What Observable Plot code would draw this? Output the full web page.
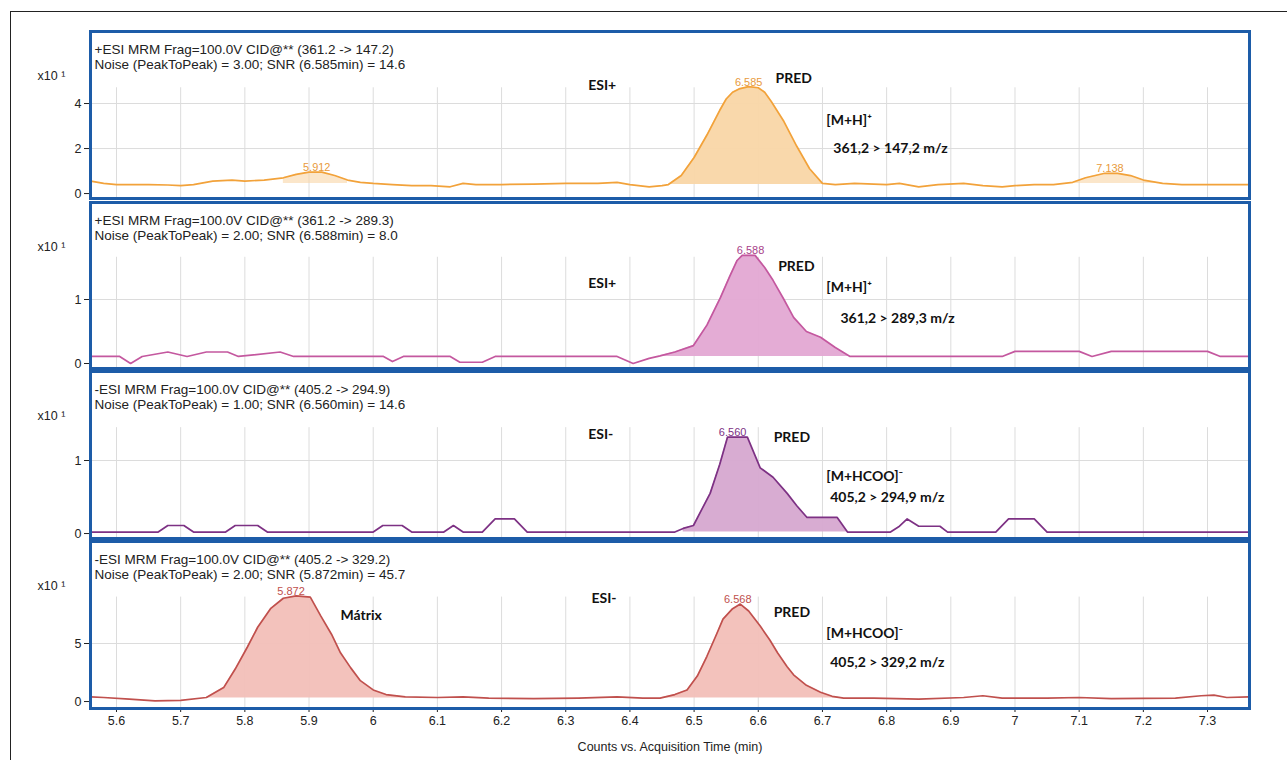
<!DOCTYPE html>
<html><head><meta charset="utf-8">
<script src="https://cdn.jsdelivr.net/npm/d3@7"></script>
<script src="https://cdn.jsdelivr.net/npm/@observablehq/plot@0.6"></script>
<style>
body{margin:0;background:#fff;}
#root{position:relative;width:1287px;height:760px;overflow:hidden;font-family:"Liberation Sans",Arial,sans-serif;background:#fff;}
#frame{position:absolute;left:10px;top:11px;width:1400px;height:900px;border-top:1px solid #222;border-left:1px solid #222;}
.panel{position:absolute;left:0;}
</style></head><body><div id="root"><div id="frame"></div></div>
<script>
// ---- data ----
const xTicks = [5.6,5.7,5.8,5.9,6.0,6.1,6.2,6.3,6.4,6.5,6.6,6.7,6.8,6.9,7.0,7.1,7.2,7.3];

const t1 = [5.56,5.58,5.60,5.65,5.68,5.70,5.72,5.75,5.78,5.80,5.83,5.86,5.88,5.90,5.92,5.94,5.96,5.98,6.00,6.03,6.06,6.09,6.12,6.14,6.16,6.20,6.25,6.30,6.35,6.38,6.40,6.43,6.45,6.46,6.48,6.50,6.52,6.54,6.55,6.56,6.57,6.585,6.60,6.61,6.62,6.64,6.66,6.68,6.70,6.72,6.75,6.78,6.80,6.82,6.85,6.88,6.92,6.95,6.98,7.00,7.03,7.06,7.09,7.11,7.14,7.16,7.18,7.20,7.23,7.26,7.30,7.33,7.365];
const v1 = [0.55,0.45,0.40,0.40,0.38,0.35,0.40,0.55,0.60,0.55,0.60,0.70,0.85,0.95,0.95,0.80,0.60,0.50,0.45,0.40,0.35,0.35,0.30,0.45,0.40,0.40,0.42,0.45,0.45,0.50,0.40,0.30,0.35,0.40,0.80,1.60,2.60,3.70,4.20,4.50,4.65,4.75,4.70,4.50,4.10,3.20,2.10,1.10,0.45,0.40,0.45,0.42,0.40,0.45,0.30,0.40,0.45,0.35,0.30,0.35,0.40,0.40,0.50,0.70,0.90,0.90,0.80,0.60,0.45,0.40,0.40,0.40,0.40];

const t2 = [5.56,5.605,5.622,5.64,5.68,5.71,5.74,5.773,5.79,5.855,5.876,6.016,6.03,6.047,6.12,6.135,6.17,6.19,6.30,6.38,6.405,6.43,6.447,6.47,6.499,6.52,6.541,6.555,6.567,6.575,6.595,6.61,6.623,6.64,6.655,6.675,6.697,6.72,6.743,6.80,6.90,6.98,7.00,7.10,7.12,7.15,7.30,7.32,7.365];
const v2 = [0.11,0.11,0.0,0.11,0.18,0.11,0.18,0.18,0.11,0.18,0.11,0.11,0.03,0.11,0.11,0.02,0.02,0.11,0.11,0.11,0.0,0.08,0.12,0.18,0.28,0.60,1.03,1.35,1.61,1.69,1.69,1.50,1.30,1.00,0.72,0.50,0.41,0.25,0.11,0.11,0.11,0.11,0.19,0.19,0.11,0.19,0.19,0.11,0.11];

const t3 = [5.56,5.665,5.68,5.705,5.72,5.77,5.785,5.82,5.835,6.00,6.015,6.045,6.06,6.11,6.125,6.14,6.17,6.19,6.22,6.24,6.47,6.483,6.499,6.512,6.525,6.54,6.552,6.583,6.603,6.623,6.645,6.66,6.676,6.723,6.739,6.806,6.82,6.832,6.85,6.883,6.895,6.97,6.99,7.03,7.05,7.365];
const v3 = [0.02,0.02,0.11,0.11,0.02,0.02,0.11,0.11,0.02,0.02,0.11,0.11,0.02,0.02,0.11,0.02,0.02,0.20,0.20,0.02,0.02,0.07,0.11,0.33,0.55,0.95,1.32,1.32,0.90,0.77,0.55,0.38,0.22,0.22,0.02,0.02,0.10,0.20,0.10,0.10,0.02,0.02,0.20,0.20,0.02,0.02];

const t4 = [5.56,5.58,5.62,5.66,5.70,5.74,5.767,5.785,5.804,5.82,5.84,5.86,5.88,5.902,5.918,5.935,5.949,5.965,5.98,6.00,6.02,6.05,6.10,6.14,6.18,6.25,6.32,6.38,6.42,6.447,6.47,6.489,6.505,6.52,6.535,6.545,6.56,6.572,6.585,6.603,6.618,6.63,6.645,6.655,6.675,6.697,6.715,6.733,6.78,6.85,6.92,6.95,6.98,7.05,7.10,7.15,7.25,7.29,7.31,7.33,7.365];
const v4 = [0.40,0.35,0.20,0.05,0.10,0.35,1.2,2.8,4.7,6.4,8.0,8.9,9.1,9.0,7.4,5.8,4.2,2.9,1.8,1.0,0.6,0.4,0.35,0.40,0.30,0.25,0.30,0.40,0.30,0.30,0.6,1.0,2.2,3.9,5.8,7.1,8.0,8.4,7.8,6.5,5.3,4.2,3.0,2.3,1.4,0.8,0.45,0.3,0.3,0.2,0.35,0.5,0.3,0.3,0.35,0.25,0.3,0.5,0.55,0.35,0.4];

const headers = [
  "+ESI MRM Frag=100.0V CID@** (361.2 -> 147.2)\nNoise (PeakToPeak) = 3.00; SNR (6.585min) = 14.6",
  "+ESI MRM Frag=100.0V CID@** (361.2 -> 289.3)\nNoise (PeakToPeak) = 2.00; SNR (6.588min) = 8.0",
  "-ESI MRM Frag=100.0V CID@** (405.2 -> 294.9)\nNoise (PeakToPeak) = 1.00; SNR (6.560min) = 14.6",
  "-ESI MRM Frag=100.0V CID@** (405.2 -> 329.2)\nNoise (PeakToPeak) = 2.00; SNR (5.872min) = 45.7"
];
const yTicks = [[0,2,4],[0,1],[0,1],[0,5]];

const peaks1 = [{t:5.912,v:0.95,label:"5.912"},{t:6.585,v:4.75,label:"6.585"},{t:7.148,v:0.9,label:"7.138"}];
const peaks2 = [{t:6.588,v:1.69,label:"6.588"}];
const peaks3 = [{t:6.560,v:1.32,label:"6.560"}];
const peaks4 = [{t:5.872,v:9.1,label:"5.872"},{t:6.568,v:8.4,label:"6.568"}];

const notes1 = [{t:6.335,v:4.8,label:"ESI+"},{t:6.627,v:5.1,label:"PRED"},{t:6.706,v:3.24,label:"[M+H]⁺"},{t:6.717,v:2.0,label:"361,2 > 147,2 m/z"}];
const notes2 = [{t:6.335,v:1.25,label:"ESI+"},{t:6.631,v:1.52,label:"PRED"},{t:6.706,v:1.19,label:"[M+H]⁺"},{t:6.728,v:0.70,label:"361,2 > 289,3 m/z"}];
const notes3 = [{t:6.335,v:1.36,label:"ESI-"},{t:6.624,v:1.32,label:"PRED"},{t:6.706,v:0.78,label:"[M+HCOO]⁻"},{t:6.712,v:0.49,label:"405,2 > 294,9 m/z"}];
const notes4 = [{t:5.949,v:7.4,label:"Mátrix"},{t:6.340,v:8.9,label:"ESI-"},{t:6.624,v:7.7,label:"PRED"},{t:6.706,v:5.9,label:"[M+HCOO]⁻"},{t:6.712,v:3.4,label:"405,2 > 329,2 m/z"}];

// peak fill ranges [start, end, baseline]
const fills1 = [[5.86,5.97,0.45],[6.46,6.70,0.40],[7.09,7.23,0.45]];
const fills2 = [[6.447,6.743,0.11]];
const fills3 = [[6.483,6.739,0.02]];
const fills4 = [[5.74,6.05,0.3],[6.447,6.733,0.3]];

// ---- layout / style ----
const panels = [
  {t:t1, v:v1, peaks:peaks1, notes:notes1, fills:fills1, top:31, h:167, domain:[-0.22,7.2], gridTop:4.7, stroke:"#f2a23a", fill:"#f9d6a6", lab:"#e89a3c"},
  {t:t2, v:v2, peaks:peaks2, notes:notes2, fills:fills2, top:202, h:166, domain:[-0.078,2.516], gridTop:1.66, stroke:"#c4589f", fill:"#e3a8d3", lab:"#a8428a"},
  {t:t3, v:v3, peaks:peaks3, notes:notes3, fills:fills3, top:371, h:167, domain:[-0.068,2.219], gridTop:1.45, stroke:"#7d3184", fill:"#d6a8d0", lab:"#7d3184"},
  {t:t4, v:v4, peaks:peaks4, notes:notes4, fills:fills4, top:541, h:167, domain:[-0.60,13.79], gridTop:9.0, stroke:"#c0504d", fill:"#f2bfb8", lab:"#c0504d"}
];
const fmt = d => String(+d.toFixed(1));
const root = document.getElementById("root");

panels.forEach((p, i) => {
  const data = p.t.map((t, k) => ({t, v: p.v[k]}));
  const last = i === 3;
  const svg = Plot.plot({
    width: 1287,
    height: p.h + (last ? 52 : 0),
    marginLeft: 90, marginRight: 38, marginTop: 0, marginBottom: last ? 52 : 0,
    style: {overflow: "visible", fontFamily: "'Liberation Sans', Arial, sans-serif", color: "#222"},
    x: {domain: [5.5595, 7.3654], label: null, axis: null},
    y: {domain: p.domain, label: null, axis: null},
    marks: [
      Plot.ruleY(yTicks[i].filter(d => d > 0), {stroke: "#dcdcdc"}),
      Plot.ruleX(xTicks, {y1: p.domain[0], y2: p.gridTop, stroke: "#dcdcdc"}),
      ...p.fills.map(([a, b, base], k) => Plot.areaY(data.filter(d => d.t >= a && d.t <= b), {x: "t", y1: base, y2: "v", fill: p.fill, fillOpacity: (i === 0 && k !== 1) ? 0.6 : 0.95})),
      Plot.lineY(data, {x: "t", y: "v", stroke: p.stroke, strokeWidth: 1.7}),
      Plot.text(p.peaks, {x: "t", y: "v", text: "label", fill: p.lab, fontSize: 11, lineAnchor: "bottom", dy: -1}),
      Plot.text(p.notes, {x: "t", y: "v", text: "label", textAnchor: "start", fontWeight: "bold", fontSize: 14, fontFamily: "Lato", fill: "#111"}),
      Plot.text([headers[i]], {frameAnchor: "top-left", text: d => d, dx: 4, dy: 12, textAnchor: "start", lineAnchor: "top", fontSize: 13.5, lineHeight: 1.12, fill: "#222"}),
      Plot.text(["x10 ¹"], {frameAnchor: "top-left", text: d => d, dx: -53, dy: 40, textAnchor: "start", fontSize: 12.5, fill: "#222"}),
      Plot.axisY({ticks: yTicks[i], tickSize: 6, tickPadding: 3, fontSize: 12.5, tickFormat: fmt, label: null}),
      last ? Plot.axisX({ticks: xTicks, tickSize: 4, tickPadding: 4, fontSize: 12.5, tickFormat: fmt, label: "Counts vs. Acquisition Time (min)", labelAnchor: "center", labelArrow: "none", labelOffset: 42}) : null,
      Plot.frame({stroke: "#1d5ca8", strokeWidth: 3})
    ]
  });
  svg.classList.add("panel");
  svg.style.top = p.top + "px";
  root.appendChild(svg);
});
</script></body></html>
